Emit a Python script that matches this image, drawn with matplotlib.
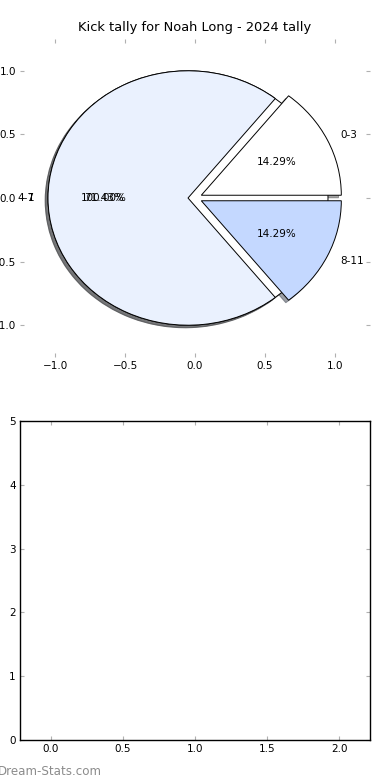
import numpy as np
import matplotlib
matplotlib.use("Agg")
import matplotlib.pyplot as plt

# ---- data ----
title = "Kick tally for Noah Long - 2024 tally"
labels = ["0-3", "4-7", "8-11"]
kicks = [1, 5, 1]
colors = ["#ffffff", "#eaf1fe", "#c4d8ff"]
explode = [0.05, 0.05, 0.05]

# second (background) pie that got drawn on the same axes
bg_labels = ["1"]
bg_values = [1]

bar_ylim = (0, 5)
bar_xlim = (-0.215, 2.215)

tick_grey = "#b0b0b0"

fig = plt.figure(figsize=(3.9, 7.8), dpi=100)
ax1 = fig.add_axes([20/390, 1-357/780, 350/390, 318/780])
ax2 = fig.add_axes([20/390, 1-740/780, 350/390, 319/780])

# old-style shadow: offset of 0.02 data units
shadow = {"ox": -0.02 * 72 / 100, "oy": -0.02 * 72 / 100}

ax1.pie(bg_values, labels=bg_labels, colors=colors[:1], explode=[0.05],
        autopct="%.2f%%", shadow=shadow,
        wedgeprops={"edgecolor": "black", "linewidth": 0.7},
        textprops={"fontsize": 7.5})
ax1.pie(kicks, labels=labels, colors=colors, explode=explode,
        autopct="%.2f%%", shadow=shadow,
        wedgeprops={"edgecolor": "black", "linewidth": 0.7},
        textprops={"fontsize": 7.5})
ax1.set_aspect("auto")
ax1.set_frame_on(False)
ax1.set_xlim(-1.25, 1.25)
ax1.set_ylim(-1.25, 1.25)
ax1.set_xticks([-1.0, -0.5, 0.0, 0.5, 1.0])
ax1.set_yticks([-1.0, -0.5, 0.0, 0.5, 1.0])
ax1.tick_params(direction="in", length=3, color=tick_grey, labelsize=7.5,
                top=True, right=True, pad=3)
ax1.set_title(title, fontsize=9.4, pad=6)

ax2.set_xlim(*bar_xlim)
ax2.set_ylim(*bar_ylim)
ax2.set_xticks([0.0, 0.5, 1.0, 1.5, 2.0])
ax2.set_yticks([0, 1, 2, 3, 4, 5])
ax2.tick_params(direction="in", length=3, color=tick_grey, labelsize=7.5,
                top=True, right=True, pad=3)
for s in ax2.spines.values():
    s.set_linewidth(1.0)

fig.text(-0.005, 0.003, "Dream-Stats.com", color="#8c8c8c", fontsize=8.6,
         ha="left", va="bottom")

fig.savefig("out.png", dpi=100)
